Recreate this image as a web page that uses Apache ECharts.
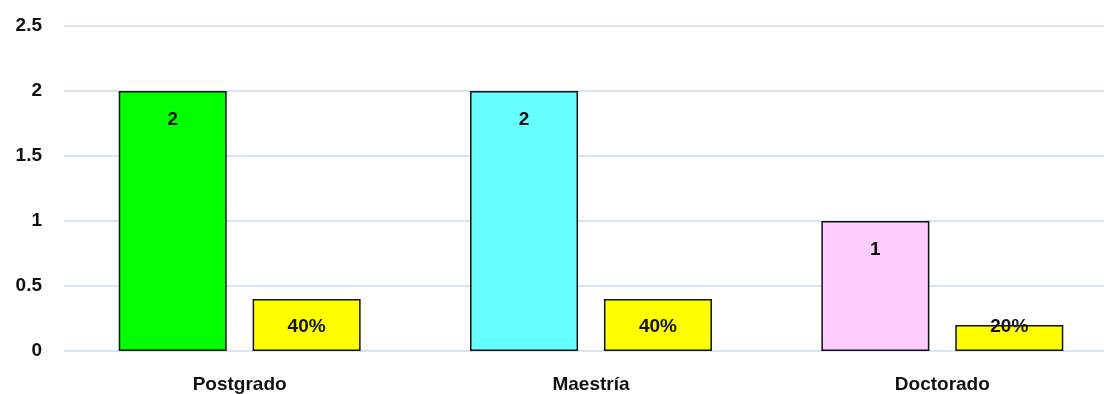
<!DOCTYPE html>
<html><head><meta charset="utf-8">
<script src="https://cdn.jsdelivr.net/npm/echarts@6/dist/echarts.min.js"></script>
<style>html,body{margin:0;padding:0;background:#fff;overflow:hidden;width:1104px;height:394px}#c{width:1118px;height:394px}</style>
</head><body><div id="c"></div>
<script>
var categories = ['Postgrado', 'Maestría', 'Doctorado'];
var counts = [2, 2, 1];
var shares = [0.4, 0.4, 0.2];
var countColors = ['#00FF00', '#66FFFF', '#FFCCFF'];
var yTicks = [0, 0.5, 1, 1.5, 2, 2.5];

var font = 'Liberation Sans';
var fs = 19;
var chart = echarts.init(document.getElementById('c'));
chart.setOption({
  animation: false,
  grid: { left: 64, top: 26, bottom: 40, right: 0 },
  xAxis: {
    type: 'category', data: categories,
    axisLine: { show: false }, axisTick: { show: false },
    axisLabel: { color: '#111', fontWeight: 'bold', fontSize: fs, fontFamily: font, margin: 24 }
  },
  yAxis: {
    type: 'value', min: yTicks[0], max: yTicks[yTicks.length - 1], interval: 0.5,
    axisLine: { show: false }, axisTick: { show: false },
    splitLine: { lineStyle: { color: '#C9DBEF', width: 1.5 } },
    axisLabel: { color: '#111', fontWeight: 'bold', fontSize: fs, fontFamily: font, margin: 22, verticalAlign: 'middle', lineHeight: 19, padding: [3, 0, 0, 0] }
  },
  series: [
    {
      type: 'bar', barWidth: 108, barGap: '24%',
      data: counts.map(function (v, i) { return { value: v, itemStyle: { color: countColors[i] } }; }),
      itemStyle: { borderColor: '#111', borderWidth: 1.5 },
      label: { show: true, position: 'insideTop', distance: 19, color: '#111', fontWeight: 'bold', fontSize: fs, fontFamily: font }
    },
    {
      type: 'bar', barWidth: 108,
      data: shares.map(function (v, i) {
        var o = { value: v };
        if (i === 2) o.label = { position: 'insideTop', distance: -8 };
        return o;
      }),
      itemStyle: { color: '#FFFF00', borderColor: '#111', borderWidth: 1.5 },
      label: {
        show: true, position: 'insideTop', distance: 18, color: '#111', fontWeight: 'bold', fontSize: fs, fontFamily: font,
        formatter: function (p) { return Math.round(p.value * 100) + '%'; }
      }
    }
  ]
});
</script></body></html>
